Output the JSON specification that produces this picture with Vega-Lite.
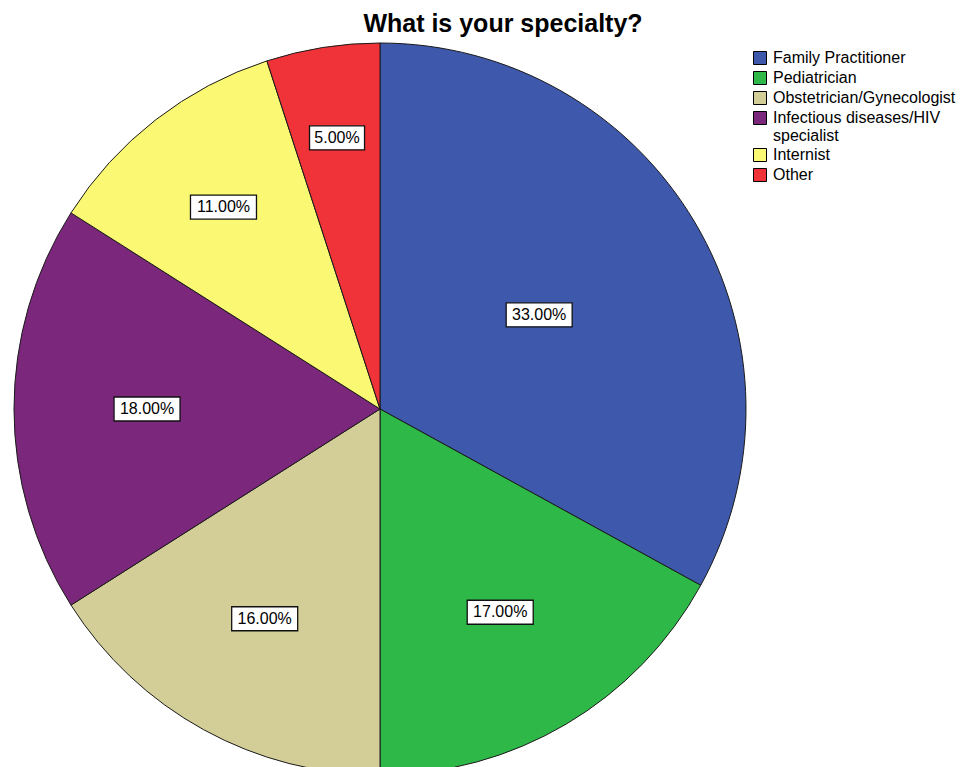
{
  "$schema": "https://vega.github.io/schema/vega-lite/v6.json",
  "width": 732,
  "height": 732,
  "autosize": {"type": "none"},
  "padding": {"left": 14, "top": 43, "right": 226, "bottom": 0},
  "background": "white",
  "title": {
    "text": "What is your specialty?",
    "font": "Liberation Sans",
    "fontSize": 25,
    "fontWeight": "bold",
    "color": "black",
    "anchor": "middle",
    "frame": "group",
    "dx": 123,
    "offset": 4
  },
  "config": {"view": {"stroke": null}},
  "data": {
    "values": [
      {"specialty": "Family Practitioner", "percent": 33, "k": 1},
      {"specialty": "Pediatrician", "percent": 17, "k": 2},
      {"specialty": "Obstetrician/Gynecologist", "percent": 16, "k": 3},
      {"specialty": "Infectious diseases/HIV specialist", "percent": 18, "k": 4},
      {"specialty": "Internist", "percent": 11, "k": 5},
      {"specialty": "Other", "percent": 5, "k": 6}
    ]
  },
  "layer": [
    {
      "mark": {"type": "arc", "outerRadius": 366, "stroke": "#1a1a1a", "strokeWidth": 1},
      "encoding": {
        "theta": {"field": "percent", "type": "quantitative", "stack": true},
        "order": {"field": "k", "type": "quantitative"},
        "color": {
          "field": "specialty",
          "type": "nominal",
          "scale": {
            "domain": ["Family Practitioner", "Pediatrician", "Obstetrician/Gynecologist", "Infectious diseases/HIV specialist", "Internist", "Other"],
            "range": ["#3E58AC", "#2EB848", "#D3CE97", "#7B277C", "#FBF873", "#EF3338"]
          },
          "legend": {
            "title": null,
            "orient": "none",
            "legendX": 738,
            "legendY": 7,
            "padding": 0,
            "symbolType": "square",
            "symbolSize": 169,
            "symbolStrokeColor": "black",
            "symbolStrokeWidth": 1,
            "symbolOpacity": 1,
            "labelFont": "Liberation Sans",
            "labelFontSize": 16,
            "labelColor": "black",
            "labelOffset": 5,
            "labelLimit": 300,
            "rowPadding": 2,
            "labelExpr": "datum.label == 'Infectious diseases/HIV specialist' ? ['Infectious diseases/HIV', 'specialist'] : datum.label"
          }
        }
      }
    },
    {
      "transform": [
        {"window": [{"op": "sum", "field": "percent", "as": "cum"}], "sort": [{"field": "k"}], "frame": [null, 0]},
        {"calculate": "(datum.cum - datum.percent / 2) / 100 * 2 * PI", "as": "mid"},
        {"calculate": "366 * (0.794 - 0.00875 * datum.percent)", "as": "cr"},
        {"calculate": "datum.cr * sin(datum.mid)", "as": "lx"},
        {"calculate": "datum.cr * cos(datum.mid)", "as": "ly"},
        {"calculate": "format(datum.percent, '.2f') + '%'", "as": "lab"},
        {"calculate": "5.5 * length(datum.lab) + 0", "as": "hw"},
        {"calculate": "datum.lx - datum.hw", "as": "xa"},
        {"calculate": "datum.lx + datum.hw", "as": "xb"},
        {"calculate": "datum.ly - 12", "as": "ya"},
        {"calculate": "datum.ly + 12", "as": "yb"}
      ],
      "mark": {"type": "rect", "fill": "white", "stroke": "#111111", "strokeWidth": 1.3},
      "encoding": {
        "x": {"field": "xa", "type": "quantitative", "scale": {"domain": [-366, 366], "nice": false, "zero": false}, "axis": null},
        "x2": {"field": "xb"},
        "y": {"field": "ya", "type": "quantitative", "scale": {"domain": [-366, 366], "nice": false, "zero": false}, "axis": null},
        "y2": {"field": "yb"}
      }
    },
    {
      "transform": [
        {"window": [{"op": "sum", "field": "percent", "as": "cum"}], "sort": [{"field": "k"}], "frame": [null, 0]},
        {"calculate": "(datum.cum - datum.percent / 2) / 100 * 2 * PI", "as": "mid"},
        {"calculate": "366 * (0.794 - 0.00875 * datum.percent)", "as": "cr"},
        {"calculate": "datum.cr * sin(datum.mid)", "as": "lx"},
        {"calculate": "datum.cr * cos(datum.mid)", "as": "ly"},
        {"calculate": "format(datum.percent, '.2f') + '%'", "as": "lab"}
      ],
      "mark": {"type": "text", "font": "Liberation Sans", "fontSize": 16, "color": "black", "align": "center", "baseline": "middle"},
      "encoding": {
        "x": {"field": "lx", "type": "quantitative"},
        "y": {"field": "ly", "type": "quantitative"},
        "text": {"field": "lab", "type": "nominal"}
      }
    }
  ]
}
